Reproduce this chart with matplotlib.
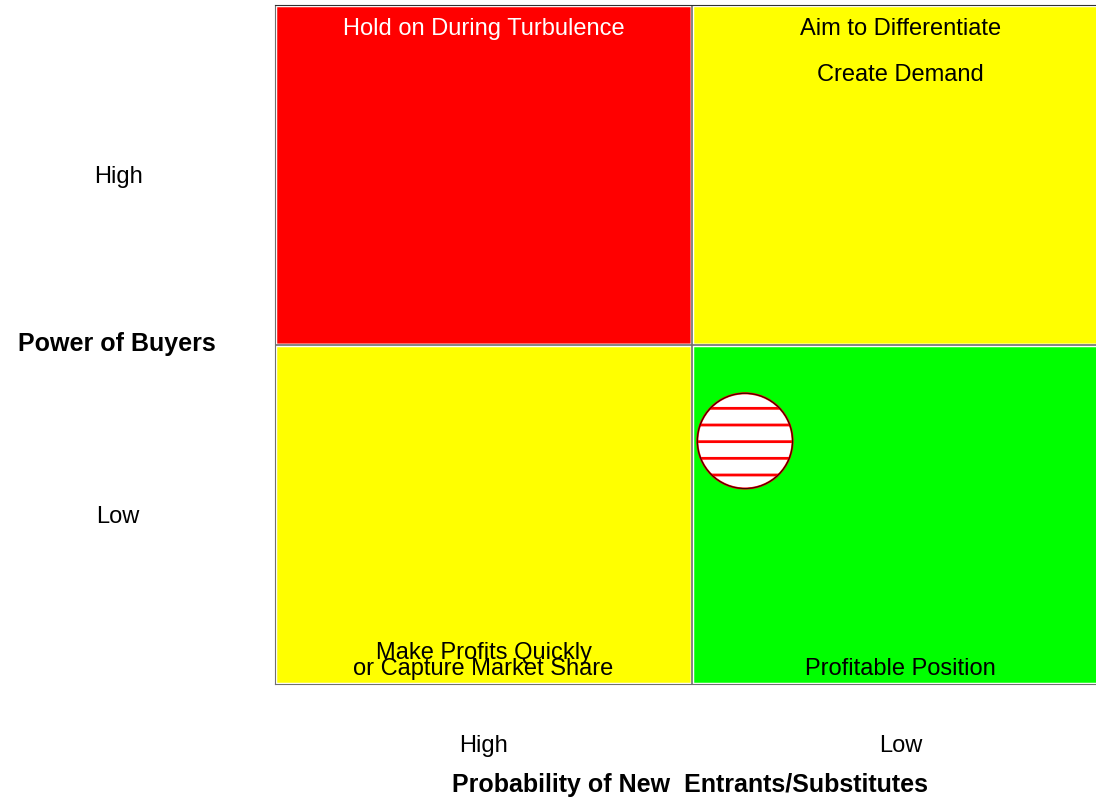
import matplotlib.pyplot as plt
from matplotlib.patches import Rectangle

plt.rcParams['font.family'] = ['Liberation Sans', 'DejaVu Sans']
plt.rcParams['hatch.linewidth'] = 2.0

# Quadrants: lower-left corner, fill colour
quad_x = [0, 1, 0, 1]
quad_y = [1, 1, 0, 0]
quad_colors = ['#ff0000', '#ffff00', '#ffff00', '#00ff00']

# Quadrant captions (x, y, text, colour)
label_x = [0.5, 1.5, 1.5, 0.5, 0.5, 1.5]
label_y = [1.93, 1.93, 1.795, 0.092, 0.045, 0.045]
label_text = ['Hold on During Turbulence', 'Aim to Differentiate', 'Create Demand',
              'Make Profits Quickly', 'or Capture Market Share', 'Profitable Position']
label_color = ['white', 'black', 'black', 'black', 'black', 'black']

# Bubble position
bubble_x = [1.127]
bubble_y = [0.716]

x_ticklabels = ['High', 'Low']
y_ticklabels = ['Low', 'High']

fig = plt.figure(figsize=(10.96, 8), dpi=100)
ax = fig.add_axes([275 / 1096, 116 / 800, 834 / 1096, 679 / 800])
ax.set_xlim(0, 2)
ax.set_ylim(0, 2)

for x, y, c in zip(quad_x, quad_y, quad_colors):
    ax.add_patch(Rectangle((x, y), 1, 1, facecolor=c, edgecolor='white', linewidth=2.5, zorder=1))

ax.axvline(1, color='#707070', lw=1.2, zorder=2)
ax.axhline(1, color='#707070', lw=1.2, zorder=2)

for x, y, t, c in zip(label_x, label_y, label_text, label_color):
    ax.text(x, y, t, color=c, fontsize=17, ha='center', va='center', zorder=3)

ax.scatter(bubble_x, bubble_y, s=4700, facecolor='white', edgecolor='red',
           hatch='-', linewidth=1.5, zorder=4)
ax.scatter(bubble_x, bubble_y, s=4700, facecolor='none', edgecolor='#400000',
           linewidth=0.8, zorder=5)

ax.set_xticks([0.5, 1.5])
ax.set_xticklabels(x_ticklabels, fontsize=17)
ax.set_yticks([0.5, 1.5])
ax.set_yticklabels(y_ticklabels, fontsize=17, ha='center')
ax.tick_params(axis='x', length=0, pad=37)
ax.tick_params(axis='y', length=0, pad=113)

ax.set_xlabel('Probability of New  Entrants/Substitutes', fontsize=18, fontweight='bold',
              va='center')
ax.xaxis.set_label_coords(0.498, -0.149)
ax.set_ylabel('Power of Buyers', fontsize=18, fontweight='bold', rotation=0,
              ha='center', va='center')
ax.yaxis.set_label_coords(-0.189, 0.5)

for side in ['left', 'bottom']:
    ax.spines[side].set_color('#707070')
ax.spines['top'].set_color('#303030')
ax.spines['right'].set_visible(False)

fig.savefig('out.png', dpi=100)
